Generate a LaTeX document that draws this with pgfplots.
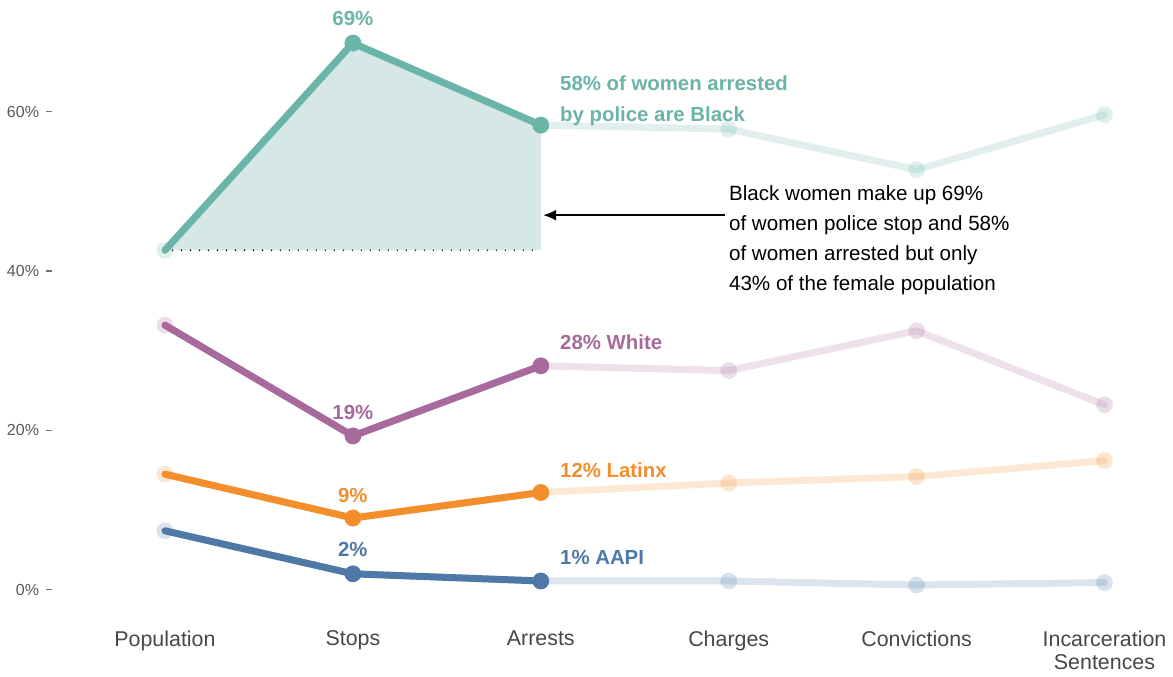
\documentclass[border=0pt]{standalone}
\usepackage{pgfplots}
\pgfplotsset{compat=1.18}
\usepackage{fontspec}
\setmainfont{Liberation Sans}
\usetikzlibrary{arrows.meta}
\definecolor{cB}{HTML}{6AB4AA}
\definecolor{cW}{HTML}{A8699D}
\definecolor{cL}{HTML}{F28E2B}
\definecolor{cA}{HTML}{4E79A7}
\definecolor{cFill}{HTML}{D5E8E6}
\pgfplotstableread{
x B W L A
0 42.6 33.2 14.5 7.4
1 68.6 19.3 9.0 2.0
2 58.3 28.1 12.2 1.1
3 57.8 27.5 13.4 1.1
4 52.7 32.5 14.2 0.6
5 59.6 23.2 16.2 0.9
}\data
\pgfplotstableread{
x B W L A
0 42.6 33.2 14.5 7.4
1 68.6 19.3 9.0 2.0
2 58.3 28.1 12.2 1.1
}\dark
\pgfplotstableread{
x B W L A
1 68.6 19.3 9.0 2.0
2 58.3 28.1 12.2 1.1
}\darkm
\tikzset{
  fadedl/.style={#1, draw opacity=0.2, line width=3.5pt, mark=none},
  fadedm/.style={#1, only marks, mark=*, mark size=4.2pt,
    mark options={#1, solid, line width=0pt, draw opacity=0, fill=#1, fill opacity=0.22}},
  darkl/.style={#1, line width=3.5pt, mark=none},
  darkm/.style={#1, only marks, mark=*, mark size=4.2pt,
    mark options={#1, solid, line width=0pt, draw opacity=0, fill=#1, fill opacity=1}},
  lab/.style={#1, font=\bfseries\fontsize{10.2}{15.5}\selectfont},
}
\begin{document}
\begin{tikzpicture}
\begin{axis}[
  width=554pt, height=297pt, scale only axis,
  xmin=-0.601, xmax=5.293, ymin=-2.5, ymax=72,
  axis line style={draw=none},
  xtick={0,...,5},
  xticklabels={Population,Stops,Arrests,Charges,Convictions,{Incarceration\\Sentences}},
  xticklabel style={align=center, font=\fontsize{10.7}{11.6}\selectfont, text=black!72, anchor=north, yshift=-4pt},
  x tick style={draw=none},
  ytick={0,20,40,60}, yticklabels={0\%,20\%,40\%,60\%},
  yticklabel style={font=\fontsize{8}{9.6}\selectfont, text=black!65},
  y tick style={black!55, line width=0.6pt},
  tick pos=left, tick align=outside, major tick length=3pt,
  clip=false,
  every axis plot/.append style={line join=round, line cap=round},
]
% bounding box of the whole picture
\path (axis cs:-0.878,74.0) rectangle (axis cs:5.362,-10.16);
% shaded area
\addplot[draw=none, fill=cFill] coordinates {(0,42.6)(1,68.6)(2,58.3)(2,42.6)(0,42.6)};
\addplot[black, line width=0.8pt, line cap=round, dash pattern=on 0pt off 4.5pt] coordinates {(0.04,42.6)(2,42.6)};
% faded series
\addplot[fadedl=cB] table[x=x,y=B] {\data};
\addplot[fadedl=cW] table[x=x,y=W] {\data};
\addplot[fadedl=cL] table[x=x,y=L] {\data};
\addplot[fadedl=cA] table[x=x,y=A] {\data};
\addplot[fadedm=cB] table[x=x,y=B] {\data};
\addplot[fadedm=cW] table[x=x,y=W] {\data};
\addplot[fadedm=cL] table[x=x,y=L] {\data};
\addplot[fadedm=cA] table[x=x,y=A] {\data};
% dark segments
\addplot[darkl=cB] table[x=x,y=B] {\dark};
\addplot[darkl=cW] table[x=x,y=W] {\dark};
\addplot[darkl=cL] table[x=x,y=L] {\dark};
\addplot[darkl=cA] table[x=x,y=A] {\dark};
\addplot[darkm=cB] table[x=x,y=B] {\darkm};
\addplot[darkm=cW] table[x=x,y=W] {\darkm};
\addplot[darkm=cL] table[x=x,y=L] {\darkm};
\addplot[darkm=cA] table[x=x,y=A] {\darkm};
% labels
\node[lab=cB] at (axis cs:1,71.7) {69\%};
\node[lab=cB, anchor=west, align=left, inner sep=0pt] at (axis cs:2.101,61.3) {58\% of women arrested\\by police are Black};
\node[lab=cW, anchor=west, inner sep=0pt] at (axis cs:2.101,31.0) {28\% White};
\node[lab=cW] at (axis cs:1,22.3) {19\%};
\node[lab=cL, anchor=west, inner sep=0pt] at (axis cs:2.101,15.0) {12\% Latinx};
\node[lab=cL] at (axis cs:1,11.8) {9\%};
\node[lab=cA, anchor=west, inner sep=0pt] at (axis cs:2.101,4.1) {1\% AAPI};
\node[lab=cA] at (axis cs:1,5.1) {2\%};
% annotation
\node[anchor=west, align=left, inner sep=0pt, font=\fontsize{10.3}{15}\selectfont] at (axis cs:3.0,43.9)
  {Black women make up 69\%\\of women police stop and 58\%\\of women arrested but only\\43\% of the female population};
\draw[-{Latex[length=6.5pt,width=5.5pt]}, line width=0.8pt] (axis cs:2.979,47) -- (axis cs:2.013,47);
\end{axis}
\end{tikzpicture}
\end{document}
